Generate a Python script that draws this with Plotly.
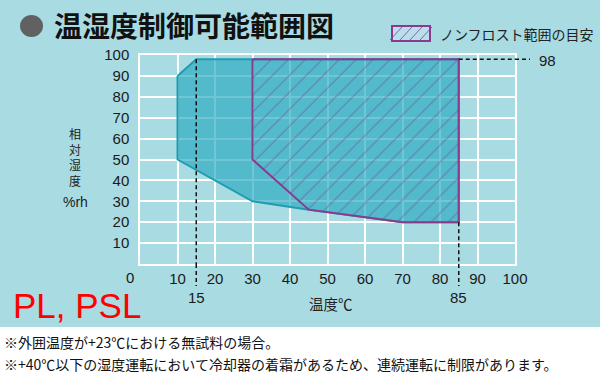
import plotly.graph_objects as go

# ---------------- data ----------------
temp_ticks = [0, 10, 20, 30, 40, 50, 60, 70, 80, 90, 100]
rh_ticks = [0, 10, 20, 30, 40, 50, 60, 70, 80, 90, 100]

# full control range (cyan area)
full_temp = [10, 15, 85, 85, 70, 45, 30, 20, 10, 10]
full_rh = [90, 98, 98, 20, 20, 26, 30, 40, 50, 90]

# non-frost range (hatched purple area)
nonfrost_temp = [30, 85, 85, 70, 45, 30, 30]
nonfrost_rh = [98, 98, 20, 20, 26, 50, 98]

marker_temps = [15, 85]
marker_rh = 98

title_text = "温湿度制御可能範囲図"
legend_text = "ノンフロスト範囲の目安"
xlabel = "温度℃"
ylabel_chars = ["相", "対", "湿", "度"]
ylabel_unit = "%rh"
model_text = "PL, PSL"
notes = ["※外囲温度が+23℃における無試料の場合。",
         "※+40℃以下の湿度運転において冷却器の着霜があるため、連続運転に制限があります。"]

# ---------------- layout constants ----------------
W, H = 600, 379
ML, MR, MT, MB = 140, 85, 55, 115
PW, PH = W - ML - MR, H - MT - MB

def px(x):
    return (x - ML) / PW

def py(y):
    return (H - MB - y) / PH

BG = "#a9dbe3"
TEAL = "#1e9db0"
PURPLE = "#8c3a8e"
NUM_FONT = "Liberation Sans, Arial, sans-serif"
JP_FONT = "Noto Sans CJK JP, sans-serif"

fig = go.Figure()

fig.add_trace(go.Scatter(
    x=full_temp, y=full_rh, mode="lines", fill="toself",
    fillcolor="rgba(38,168,190,0.66)",
    line=dict(color=TEAL, width=2), hoverinfo="skip", showlegend=False))

fig.add_trace(go.Scatter(
    x=nonfrost_temp, y=nonfrost_rh, mode="lines", fill="toself",
    fillcolor="rgba(0,0,0,0)",
    fillpattern=dict(shape="/", fgcolor="rgba(110,50,140,0.85)",
                     bgcolor="rgba(0,0,0,0)", size=12, solidity=0.1),
    line=dict(color=PURPLE, width=2), hoverinfo="skip", showlegend=False))

shapes = []
# white lower area
shapes.append(dict(type="rect", xref="paper", yref="paper",
                   x0=px(-5), x1=px(W + 5), y0=py(327), y1=py(H + 5),
                   fillcolor="white", line=dict(width=0), layer="below"))
# title bullet
shapes.append(dict(type="circle", xref="paper", yref="paper",
                   x0=px(20), x1=px(43), y0=py(37), y1=py(15),
                   fillcolor="#616161", line=dict(width=0)))
# dashed reference lines
dash = dict(color="#111", width=1.5, dash="4px,3px")
shapes.append(dict(type="line", xref="x", yref="y", x0=marker_temps[0], x1=marker_temps[0],
                   y0=marker_rh, y1=0, line=dash))
shapes.append(dict(type="line", xref="x", yref="paper", x0=marker_temps[0], x1=marker_temps[0],
                   y0=0, y1=py(286), line=dash))
shapes.append(dict(type="line", xref="x", yref="y", x0=marker_temps[1], x1=marker_temps[1],
                   y0=min(nonfrost_rh), y1=0, line=dash))
shapes.append(dict(type="line", xref="x", yref="paper", x0=marker_temps[1], x1=marker_temps[1],
                   y0=0, y1=py(286), line=dash))
shapes.append(dict(type="line", xref="x", yref="y", x0=marker_temps[1], x1=100,
                   y0=marker_rh, y1=marker_rh, line=dash))
shapes.append(dict(type="line", xref="paper", yref="y", x0=1, x1=px(530),
                   y0=marker_rh, y1=marker_rh, line=dash))
# legend box
shapes.append(dict(type="rect", xref="paper", yref="paper",
                   x0=px(392), x1=px(430), y0=py(41), y1=py(26),
                   fillcolor="#b9dfea", line=dict(color=PURPLE, width=2)))
for k in range(4):
    x0 = 392 + 2 + k * 10
    shapes.append(dict(type="line", xref="paper", yref="paper",
                       x0=px(x0 - 4), x1=px(x0 + 8), y0=py(40), y1=py(27),
                       line=dict(color="rgba(120,70,150,0.8)", width=1)))

fig.update_layout(shapes=shapes)

ann = []
ann.append(dict(xref="paper", yref="paper", x=px(52), y=py(25), xanchor="left", yanchor="middle",
                text="<b>" + title_text + "</b>", showarrow=False,
                font=dict(family=JP_FONT, size=28, color="#111")))
ann.append(dict(xref="paper", yref="paper", x=px(438), y=py(34), xanchor="left", yanchor="middle",
                text=legend_text, showarrow=False,
                font=dict(family=JP_FONT, size=14, color="#222")))
ann.append(dict(xref="paper", yref="paper", x=px(75), y=py(157),
                xanchor="center", yanchor="middle", text="<br>".join(ylabel_chars),
                showarrow=False, font=dict(family=JP_FONT, size=12, color="#222")))
ann.append(dict(xref="paper", yref="paper", x=px(75), y=py(202), xanchor="center", yanchor="middle",
                text=ylabel_unit, showarrow=False, font=dict(family=NUM_FONT, size=14, color="#222")))
ann.append(dict(xref="paper", yref="y", x=0, y=0, xanchor="right", yanchor="middle",
                xshift=-4, yshift=-13, text="0", showarrow=False,
                font=dict(family=NUM_FONT, size=15, color="#1a1a1a")))
for t in marker_temps:
    ann.append(dict(xref="x", yref="y", x=t, y=0, xanchor="center", yanchor="middle",
                    yshift=-33, text=str(t), showarrow=False,
                    font=dict(family=NUM_FONT, size=15, color="#1a1a1a")))
ann.append(dict(xref="paper", yref="y", x=px(547), y=marker_rh, xanchor="center", yanchor="middle",
                yshift=-1, text=str(marker_rh), showarrow=False,
                font=dict(family=NUM_FONT, size=15, color="#1a1a1a")))
ann.append(dict(xref="paper", yref="paper", x=px(331), y=py(303), xanchor="center", yanchor="middle",
                text=xlabel, showarrow=False, font=dict(family=JP_FONT, size=14.5, color="#222")))
ann.append(dict(xref="paper", yref="paper", x=px(11), y=py(305), xanchor="left", yanchor="middle",
                text=model_text, showarrow=False,
                font=dict(family=NUM_FONT, size=35, color="#ff0000")))
for i, n in enumerate(notes):
    ann.append(dict(xref="paper", yref="paper", x=px(2), y=py(342 + i * 22), xanchor="left",
                    yanchor="middle", text=n, showarrow=False,
                    font=dict(family=JP_FONT, size=14, color="#111")))

fig.update_layout(
    annotations=ann,
    width=W, height=H,
    margin=dict(l=ML, r=MR, t=MT, b=MB, pad=0),
    paper_bgcolor=BG, plot_bgcolor=BG,
    showlegend=False,
    xaxis=dict(range=[0, 100], tickvals=temp_ticks,
               ticktext=["" if v == 0 else str(v) for v in temp_ticks],
               showgrid=True, gridcolor="white", gridwidth=1.5,
               zeroline=False, showline=True, linecolor="white", linewidth=1.5, mirror=True,
               ticks="", ticklen=0, ticklabelstandoff=0,
               tickfont=dict(family=NUM_FONT, size=15, color="#1a1a1a")),
    yaxis=dict(range=[0, 100], tickvals=rh_ticks,
               ticktext=["" if v == 0 else str(v) for v in rh_ticks],
               showgrid=True, gridcolor="white", gridwidth=1.5,
               zeroline=False, showline=True, linecolor="white", linewidth=1.5, mirror=True,
               ticks="", ticklen=0, ticklabelstandoff=6,
               tickfont=dict(family=NUM_FONT, size=15, color="#1a1a1a")),
)

fig.write_html("out.html", config={"displayModeBar": False},
               post_script="document.body.style.margin='0';document.body.style.padding='0';")
